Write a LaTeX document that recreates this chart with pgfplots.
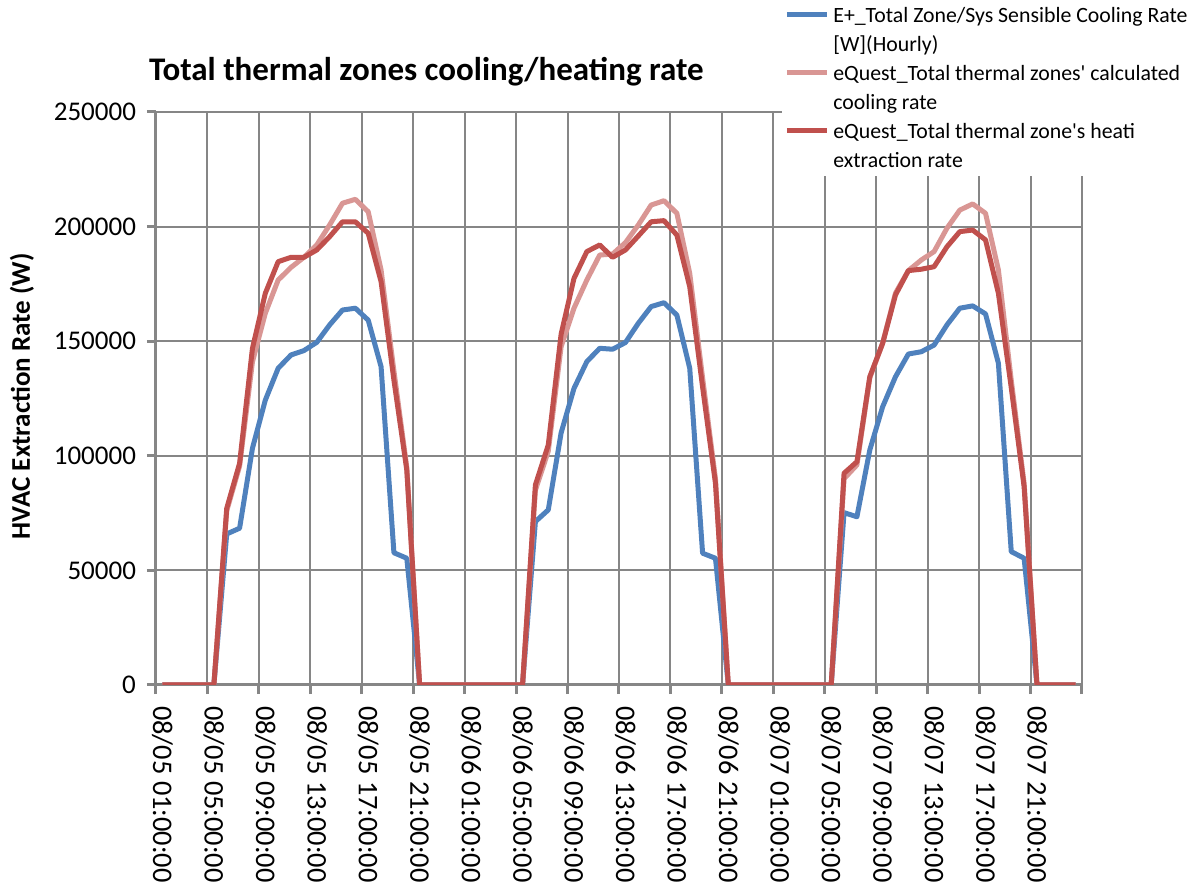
\documentclass[border=0pt]{standalone}
\usepackage{pgfplots}
\pgfplotsset{compat=1.18}
\usepackage{pgfplotstable}
\usepackage{fontspec}
\setmainfont{Carlito}
\definecolor{cBlue}{RGB}{79,129,189}
\definecolor{cPink}{RGB}{217,150,148}
\definecolor{cRed}{RGB}{192,80,77}
\definecolor{cGrid}{RGB}{134,134,134}
\pgfplotstableread{
h E C H
1 0 0 0
2 0 0 0
3 0 0 0
4 0 0 0
5 0 0 0
6 65900 76000 77100
7 68400 95500 96700
8 103300 141000 146900
9 124300 162200 170900
10 138200 176700 184700
11 144000 182200 186600
12 145900 186600 186600
13 149500 192000 189800
14 157100 200700 195600
15 163600 210200 202100
16 164400 211900 202100
17 159200 206500 197100
18 138900 181100 176000
19 57700 137000 133000
20 55300 95000 93800
21 0 0 0
22 0 0 0
23 0 0 0
24 0 0 0
25 0 0 0
26 0 0 0
27 0 0 0
28 0 0 0
29 0 0 0
30 71300 85000 87300
31 76400 102000 104700
32 110000 147600 153100
33 129400 164400 177400
34 141100 176700 189100
35 146900 187600 192000
36 146500 188000 186600
37 149400 193000 189800
38 157800 200700 195900
39 165100 209400 202100
40 166800 211300 202600
41 161400 205800 196300
42 138200 179600 173800
43 57500 134000 130000
44 55300 90000 88000
45 0 0 0
46 0 0 0
47 0 0 0
48 0 0 0
49 0 0 0
50 0 0 0
51 0 0 0
52 0 0 0
53 0 0 0
54 75200 90000 92400
55 73400 96000 97400
56 102500 134000 134500
57 121400 149100 149100
58 134500 171000 170200
59 144400 180800 180800
60 145400 185400 181400
61 148300 189100 182500
62 157100 199300 191200
63 164400 207200 197800
64 165400 209900 198500
65 161900 205800 194200
66 140400 181100 170900
67 58200 133000 129700
68 55300 88000 86500
69 0 0 0
70 0 0 0
71 0 0 0
72 0 0 0
}\datatable
\begin{document}
\begin{tikzpicture}
\begin{axis}[
  scale only axis, width=463pt, height=286.5pt,
  xmin=0.5, xmax=72.5, ymin=0, ymax=250000,
  axis x line=bottom, axis y line=left,
  axis line style={-, cGrid, line width=1.5pt},
  tick align=outside,
  major tick length=4.5pt,
  every tick/.style={cGrid, line width=1.5pt},
  xtick={0.5,4.5,...,72.5},
  xticklabels={},
  extra x ticks={1,5,...,69},
  extra x tick labels={08/05 01:00:00,08/05 05:00:00,08/05 09:00:00,08/05 13:00:00,08/05 17:00:00,08/05 21:00:00,08/06 01:00:00,08/06 05:00:00,08/06 09:00:00,08/06 13:00:00,08/06 17:00:00,08/06 21:00:00,08/07 01:00:00,08/07 05:00:00,08/07 09:00:00,08/07 13:00:00,08/07 17:00:00,08/07 21:00:00},
  extra x tick style={grid=none, major tick length=0pt,
     xticklabel style={rotate=-90, anchor=west, font=\fontsize{14.2}{16}\selectfont, xshift=7pt}},
  ytick={0,50000,...,250000},
  scaled y ticks=false,
  yticklabel style={/pgf/number format/fixed, /pgf/number format/1000 sep={}, /pgf/number format/assume math mode=true, font=\fontsize{13.5}{16}\selectfont, xshift=-2pt},
  grid=major,
  major grid style={cGrid, line width=1pt},
  title={\textbf{Total thermal zones cooling/heating rate}},
  title style={at={(axis description cs:-0.0151,1.049)}, anchor=west, font=\fontsize{16.5}{19}\selectfont},
  ylabel={\textbf{HVAC Extraction Rate (W)}},
  ylabel style={at={(axis description cs:-0.1447,0.504)}, anchor=center, rotate=0, font=\fontsize{13.5}{16}\selectfont},
  legend style={at={(axis description cs:0.676,1.199)}, anchor=north west, draw=none, fill=white,
     font=\fontsize{10.9}{14}\selectfont, cells={anchor=west, text height=9pt, text depth=4pt, inner ysep=0pt}, row sep=0pt, inner sep=1pt},
  legend image code/.code={\draw[#1, line width=2.5pt] (0pt,0pt) -- (20pt,0pt);},
  line join=round,
]
\coordinate (LL) at (rel axis cs:0,0);
\addplot[cBlue, line width=2.5pt] table[x=h, y=E] {\datatable};
\addlegendentry{E+\_Total Zone/Sys Sensible Cooling Rate}
\addlegendimage{empty legend}
\addlegendentry{[W](Hourly)}
\addplot[cPink, line width=2.5pt] table[x=h, y=C] {\datatable};
\addlegendentry{eQuest\_Total thermal zones\textquotesingle{} calculated}
\addlegendimage{empty legend}
\addlegendentry{cooling rate}
\addplot[cRed, line width=2.5pt] table[x=h, y=H] {\datatable};
\addlegendentry{eQuest\_Total thermal zone\textquotesingle{}s heati}
\addlegendimage{empty legend}
\addlegendentry{extraction rate}
\end{axis}
\pgfresetboundingbox
\path (LL) ++(-78pt,-99.5pt) rectangle ++(600.5pt,442pt);
\end{tikzpicture}
\end{document}
